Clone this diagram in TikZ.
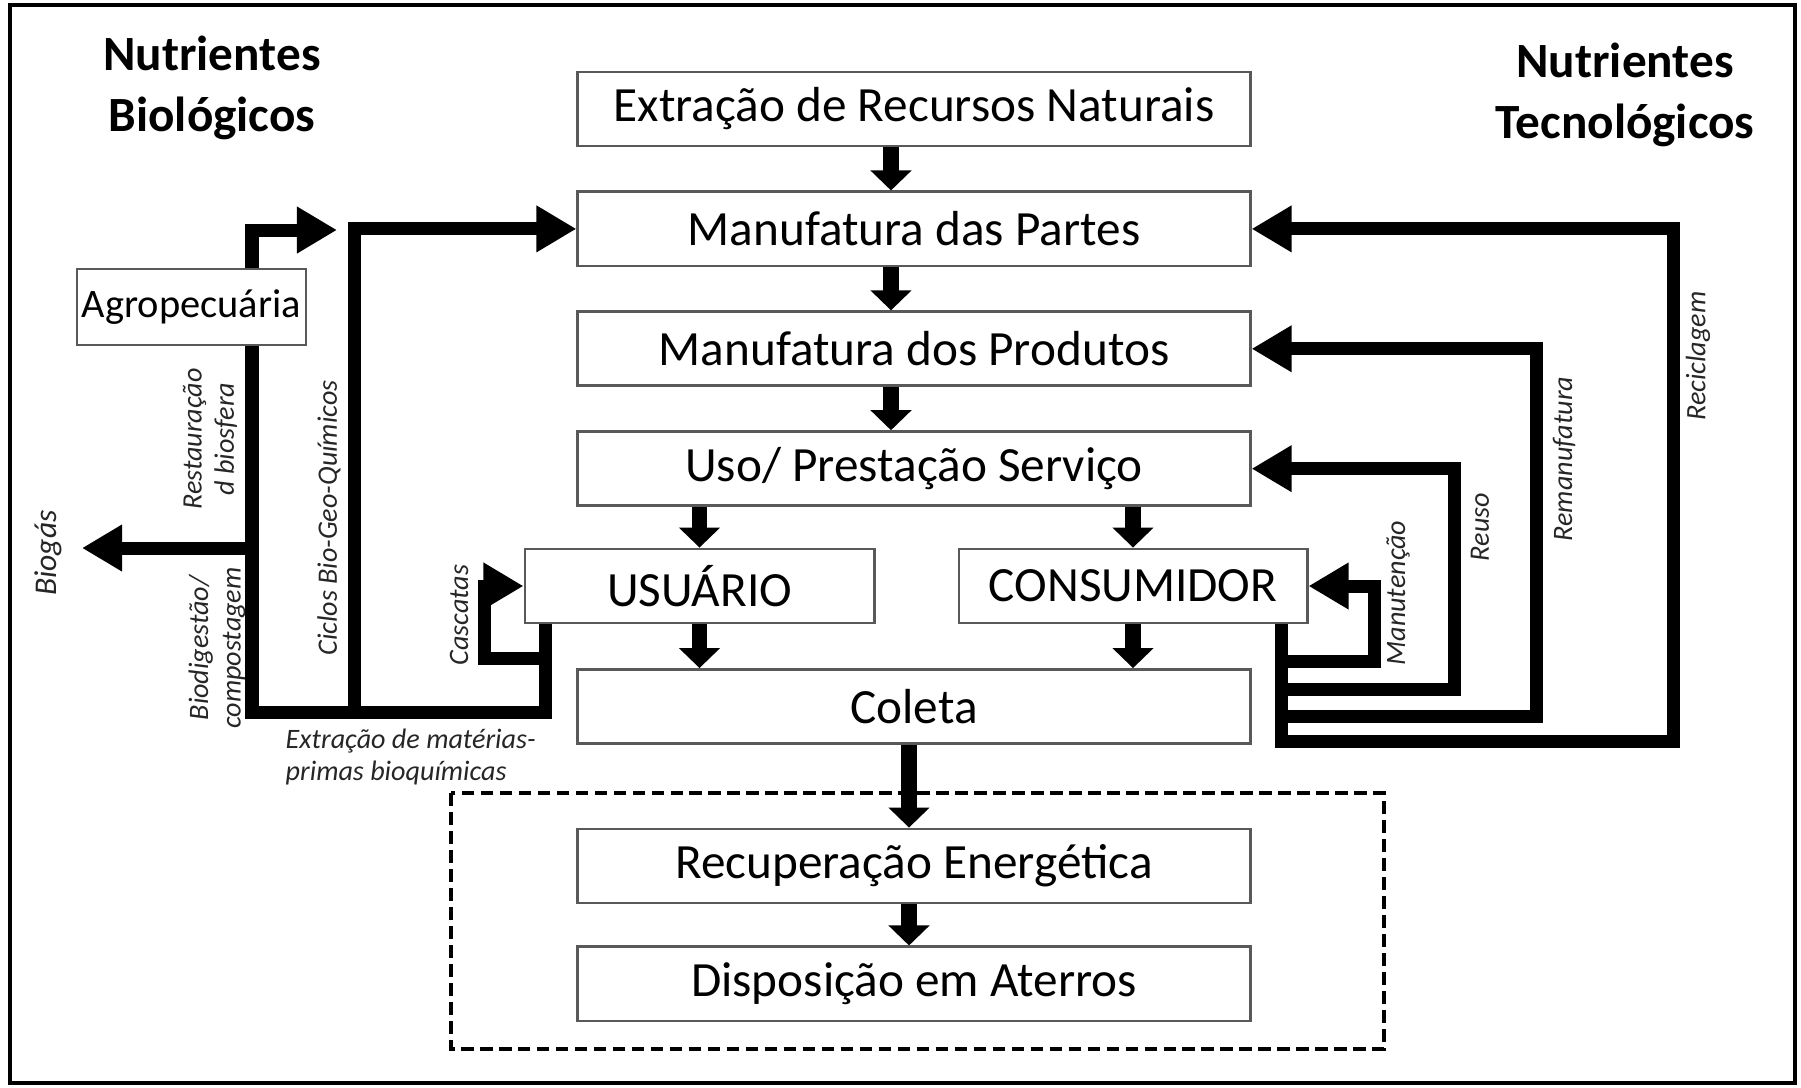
\documentclass[tikz,border=0pt]{standalone}
\usepackage{fontspec}
\setmainfont{Carlito}
\usetikzlibrary{arrows.meta,positioning}

\begin{document}
\begin{tikzpicture}[x=0.01cm, y=-0.01cm, node distance=0.43cm,
  caixa/.style={draw=black!65, line width=0.8pt, fill=white, minimum height=0.74cm, inner sep=0pt, font=\fontsize{14}{17}\selectfont},
  central/.style={caixa, minimum width=6.72cm},
  titulo/.style={align=center, font=\fontsize{14}{17.4}\selectfont\bfseries},
  rotulo/.style={font=\fontsize{8}{9.2}\selectfont\itshape, text=black!85, inner sep=0pt},
  seta/.style={line width=4.3pt, -{Triangle[length=0.2cm,width=0.4cm]}},
  ciclo/.style={line width=3.7pt, -{Triangle[length=0.4cm,width=0.44cm]}}]

\useasboundingbox (0,0) rectangle (1801,1087);
\draw[line width=1.1pt] (10,5) rectangle (1795,1083);

% titulos
\node[titulo] (bio) at (212,88) {Nutrientes\\Biológicos};
\node[titulo] (tec) at (1625,95) {Nutrientes\\Tecnológicos};

% coluna central
\node[central] (extr) at (914,109) {Extração de Recursos Naturais};
\node[central, below=of extr] (partes) {Manufatura das Partes};
\node[central, below=of partes] (produtos) {Manufatura dos Produtos};
\node[central, below=of produtos] (uso) {Uso/ Prestação Serviço};
\node[caixa, minimum width=3.49cm] (usuario) at (699.5,586) {USUÁRIO};
\node[caixa, minimum width=3.48cm] (consumidor) at (1133,586) {CONSUMIDOR};
\node[central] (coleta) at (914,706.5) {Coleta};
\node[central] (recup) at (914,866) {Recuperação Energética};
\node[central, below=0.41cm of recup] (disp) {Disposição em Aterros};

\draw[dash pattern=on 3.6pt off 1.8pt, line width=0.9pt] (451,793) rectangle (1384,1049);

% setas centrais
\draw[seta] ([xshift=-0.23cm]extr.south) -- ([xshift=-0.23cm]partes.north);
\draw[seta] ([xshift=-0.23cm]partes.south) -- ([xshift=-0.23cm]produtos.north);
\draw[seta] ([xshift=-0.23cm]produtos.south) -- ([xshift=-0.23cm]uso.north);
\draw[seta] (uso.south -| usuario.north) -- (usuario.north);
\draw[seta] (uso.south -| consumidor.north) -- (consumidor.north);
\draw[seta] (usuario.south) -- (coleta.north -| usuario.south);
\draw[seta] (consumidor.south) -- (coleta.north -| consumidor.south);
\draw[seta] ([xshift=-0.05cm]coleta.south) -- ([xshift=-0.05cm]recup.north);
\draw[seta] ([xshift=-0.05cm]recup.south) -- ([xshift=-0.05cm]disp.north);

% nutrientes biologicos
\coordinate (cU) at (545,712);
\coordinate (cB) at (252,712);
\coordinate (cC) at (354,712);
\coordinate (cK) at (484,658);
\coordinate (topo) at (337,230);
\coordinate (biogas) at (82,548);
\draw[ciclo] (usuario.south -| cU) -- (cU) -- (cB) -- (cB |- topo) -- (topo);
\draw[ciclo] (cC) |- (partes.west);
\draw[ciclo] (cB |- biogas) -- (biogas);
\draw[ciclo] (cU |- cK) -- (cK) |- (usuario.west);
\node[caixa, minimum width=2.29cm, minimum height=0.76cm, font=\fontsize{11.5}{14}\selectfont] (agro) at (191.5,307) {Agropecuária};

% nutrientes tecnologicos
\coordinate (cR) at (1281,741);
\coordinate (cRec) at (1673,741);
\coordinate (cRem) at (1536,716);
\coordinate (cReu) at (1454,689);
\coordinate (cMan) at (1374,661);
\draw[ciclo] (consumidor.south -| cR) -- (cR) -- (cRec) |- (partes.east);
\draw[ciclo] (cR |- cRem) -- (cRem) |- (produtos.east);
\draw[ciclo] (cR |- cReu) -- (cReu) |- (uso.east);
\draw[ciclo] (cR |- cMan) -- (cMan) |- (consumidor.east);

% rotulos
\node[rotulo, rotate=90, align=center] (restaura) at (210,439) {Restauração\\d biosfera};
\node[rotulo, rotate=90, align=center] (biodig) at (217,648) {Biodigestão/\\compostagem};
\node[rotulo, rotate=90] (ciclos) at (329,518) {Ciclos Bio-Geo-Químicos};
\node[rotulo, rotate=90] (cascatas) at (459,615) {Cascatas};
\node[rotulo, rotate=90, font=\fontsize{9}{11}\selectfont\itshape] (biogasTxt) at (48,553) {Biogás};
\node[rotulo, align=left, anchor=west] (extrMat) at (285,757) {Extração de matérias-\\primas bioquímicas};
\node[rotulo, rotate=90] (manut) at (1398,593) {Manutenção};
\node[rotulo, rotate=90] (reuso) at (1480,527) {Reuso};
\node[rotulo, rotate=90] (reman) at (1564,459) {Remanufatura};
\node[rotulo, rotate=90] (recic) at (1698,356) {Reciclagem};
\end{tikzpicture}
\end{document}
